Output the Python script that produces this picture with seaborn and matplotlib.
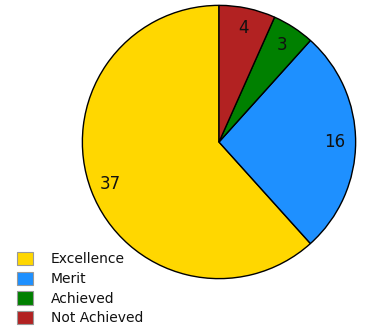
import matplotlib
matplotlib.use("Agg")
import matplotlib.pyplot as plt
import seaborn as sns
from matplotlib.patches import Patch

# data
grades = ["Excellence", "Merit", "Achieved", "Not Achieved"]
counts = [37, 16, 3, 4]
colours = ["#FFD700", "#1E90FF", "#008000", "#B22222"]

sns.set_theme(style="white")
plt.rcParams['font.family'] = ['DejaVu Sans']

fig = plt.figure(figsize=(3.66, 3.32), dpi=100)
ax = fig.add_axes([81 / 366, 52 / 332, 276 / 366, 276 / 332])

wedges, texts = ax.pie(counts, labels=[str(c) for c in counts], colors=colours,
                       startangle=90, counterclock=True, labeldistance=0.85,
                       wedgeprops=dict(edgecolor="black", linewidth=1),
                       textprops=dict(fontsize=12, color="#111111", ha="center", va="center"))
ax.set_xlim(-1.01, 1.01)
ax.set_ylim(-1.01, 1.01)
ax.set_aspect("equal")
ax.axis("off")

handles = [Patch(facecolor=c, edgecolor="#999999", linewidth=0.8) for c in colours]
fig.legend(handles, grades, loc="upper left", bbox_to_anchor=(17 / 366, 1 - 252 / 332),
           frameon=False, fontsize=10, borderpad=0, borderaxespad=0,
           handlelength=1.15, handleheight=1.1, handletextpad=1.3, labelspacing=0.38,
           labelcolor="#111111")

fig.savefig("out.png", dpi=100)
